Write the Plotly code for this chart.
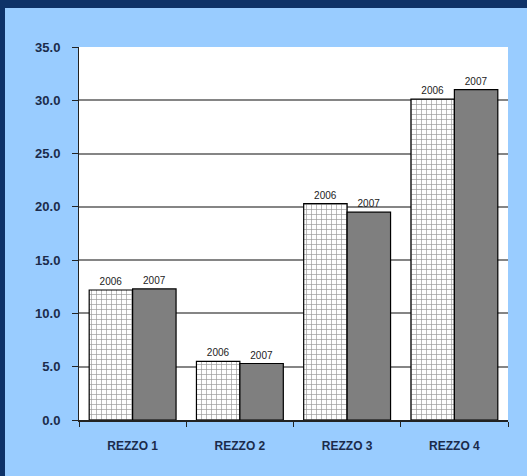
import plotly.graph_objects as go

categories = ["REZZO 1", "REZZO 2", "REZZO 3", "REZZO 4"]
values_2006 = [12.2, 5.5, 20.3, 30.1]
values_2007 = [12.3, 5.3, 19.5, 31.0]
series_names = ["2006", "2007"]
y_ticks = [0, 5, 10, 15, 20, 25, 30, 35]

W, H = 527, 476
L, R, T, B = 79, 19, 47, 56
pw, ph = W - L - R, H - T - B

def px_x(p):
    return (p - L) / pw

def px_y(p):
    return (H - B - p) / ph

label_font = dict(family="Arial, Liberation Sans", size=10, color="#222222")

fig = go.Figure()
fig.add_trace(go.Bar(
    x=categories, y=values_2006, name=series_names[0],
    text=[series_names[0]] * len(categories), textposition="outside",
    textfont=label_font,
    marker=dict(color="white", line=dict(color="black", width=1.2),
                pattern=dict(shape="+", fgcolor="#333333", bgcolor="white", size=5, solidity=0.25)),
    cliponaxis=False,
))
fig.add_trace(go.Bar(
    x=categories, y=values_2007, name=series_names[1],
    text=[series_names[1]] * len(categories), textposition="outside",
    textfont=label_font,
    marker=dict(color="#7f7f7f", line=dict(color="black", width=1.2)),
    cliponaxis=False,
))

fig.update_layout(
    width=W, height=H,
    margin=dict(l=L, r=R, t=T, b=B, pad=0),
    paper_bgcolor="#99CCFF",
    plot_bgcolor="white",
    barmode="group",
    bargap=0.19,
    bargroupgap=0,
    showlegend=False,
    font=dict(family="Arial, Liberation Sans", color="#1B2B4B"),
    shapes=[
        dict(type="rect", xref="paper", yref="paper",
             x0=px_x(0), x1=px_x(W), y0=px_y(8), y1=px_y(0),
             fillcolor="#0E3268", line=dict(width=0), layer="below"),
        dict(type="rect", xref="paper", yref="paper",
             x0=px_x(0), x1=px_x(5), y0=px_y(H), y1=px_y(0),
             fillcolor="#0E3268", line=dict(width=0), layer="below"),
    ],
)
fig.update_yaxes(
    range=[0, 35], tickvals=y_ticks, tickformat=".1f",
    showgrid=True, gridcolor="#858585", gridwidth=2,
    showline=True, linecolor="#222222", linewidth=1,
    ticks="outside", ticklen=6, tickcolor="#222222",
    tickfont=dict(size=13, family="Arial, Liberation Sans", color="#1B2B4B", weight="bold"),
    ticklabelstandoff=9,
    zeroline=False,
)
fig.update_xaxes(
    showline=True, linecolor="#222222", linewidth=1.5,
    ticks="outside", tickson="boundaries", ticklen=5, tickcolor="#222222",
    tickfont=dict(size=12, family="Arial, Liberation Sans", color="#1B2B4B", weight="bold"),
    ticklabelstandoff=14,
)

fig.write_html("out.html")
